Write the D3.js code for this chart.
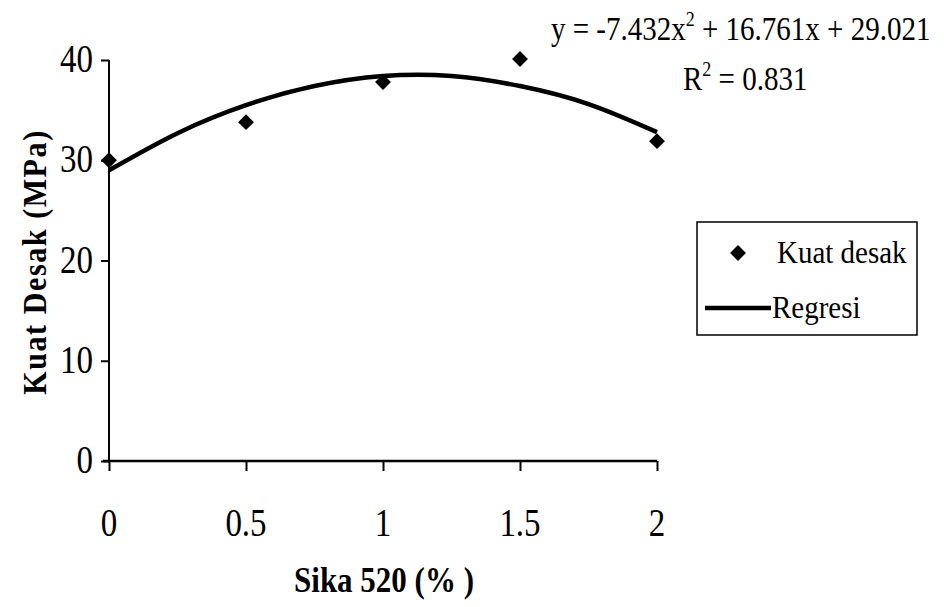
<!DOCTYPE html>
<html>
<head>
<meta charset="utf-8">
<script src="https://cdn.jsdelivr.net/npm/d3@7"></script>
<style>
  body { margin: 0; background: #fff; }
  svg { display: block; font-family: "Liberation Serif", "Times New Roman", serif; }
</style>
</head>
<body>
<div id="chart"></div>
<script>
// measured values (Kuat desak vs Sika 520 %)
const sikaPct = [0, 0.5, 1, 1.5, 2];
const kuatDesak = [30.0, 33.8, 37.8, 40.1, 31.9];

// regression curve
const regX = [0, 0.25, 0.5, 0.75, 1, 1.25, 1.5, 1.75, 2];
const regY = [29.0, 32.7, 35.5, 37.4, 38.4, 38.4, 37.4, 35.6, 32.8];

const xTicks = [0, 0.5, 1, 1.5, 2];
const yTicks = [0, 10, 20, 30, 40];

const W = 944, H = 607;
const svg = d3.select('#chart').append('svg')
    .attr('width', W).attr('height', H);

const x = d3.scaleLinear().domain([0, 2]).range([109, 657]);
const y = d3.scaleLinear().domain([0, 40]).range([461, 60]);

// stretched serif text, like the scanned figure
function label(px, py, str, o) {
    o = o || {};
    const t = svg.append('text')
        .attr('transform', `translate(${px},${py}) scale(1,${o.sy || 1})`)
        .attr('text-anchor', o.anchor || 'start')
        .style('font-size', (o.size || 30) + 'px')
        .style('font-weight', o.weight || 'normal')
        .attr('fill', '#000');
    if (str !== null) t.text(str);
    return t;
}

// axes
svg.append('g')
    .attr('transform', `translate(${x(0)},0)`)
    .call(d3.axisLeft(y).tickValues(yTicks).tickSize(8).tickFormat(''));
svg.append('g')
    .attr('transform', `translate(0,${y(0)})`)
    .call(d3.axisBottom(x).tickValues(xTicks).tickSize(10).tickFormat(''));
svg.selectAll('.domain').remove();
svg.selectAll('.tick line').attr('stroke', '#000').attr('stroke-width', 2);

svg.append('line')
    .attr('x1', x(0)).attr('x2', x(0))
    .attr('y1', y(40)).attr('y2', y(0))
    .attr('stroke', '#000').attr('stroke-width', 2);
svg.append('line')
    .attr('x1', x(0) - 6).attr('x2', x(2))
    .attr('y1', y(0)).attr('y2', y(0))
    .attr('stroke', '#000').attr('stroke-width', 2.5);

// tick labels
yTicks.forEach(v => label(x(0) - 16, y(v) + 12, String(v), { size: 33, sy: 1.22, anchor: 'end' }));
xTicks.forEach(v => label(x(v), 536, String(v), { size: 33, sy: 1.22, anchor: 'middle' }));

// axis titles
label(384, 592, 'Sika 520 (% )', { size: 31, sy: 1.15, anchor: 'middle', weight: 'bold' });
svg.append('text')
    .attr('transform', 'translate(46,262) rotate(-90) scale(1,1.1)')
    .attr('text-anchor', 'middle')
    .style('font-size', '30px')
    .style('font-weight', 'bold')
    .style('letter-spacing', '1.6px')
    .text('Kuat Desak (MPa)');

// regression curve
const line = d3.line()
    .x((d, i) => x(regX[i]))
    .y(d => y(d))
    .curve(d3.curveNatural);
svg.append('path')
    .datum(regY)
    .attr('d', line)
    .attr('fill', 'none')
    .attr('stroke', '#000')
    .attr('stroke-width', 4.5)
    .attr('stroke-linejoin', 'round');

// data points
const diamond = d3.symbol().type(d3.symbolDiamond2).size(160);
svg.selectAll('.pt')
    .data(sikaPct)
    .enter()
    .append('path')
    .attr('class', 'pt')
    .attr('transform', (d, i) => `translate(${x(d)},${y(kuatDesak[i])})`)
    .attr('d', diamond)
    .attr('fill', '#000');

// equation
const eq = label(551, 40, null, { size: 29, sy: 1.13 });
eq.append('tspan').text('y = -7.432x');
eq.append('tspan').attr('dy', -12).style('font-size', '18px').text('2');
eq.append('tspan').attr('dy', 12).text(' + 16.761x + 29.021');

const r2 = label(683, 90, null, { size: 29, sy: 1.13 });
r2.append('tspan').text('R');
r2.append('tspan').attr('dy', -12).style('font-size', '18px').text('2');
r2.append('tspan').attr('dy', 12).text(' = 0.831');

// legend
const lg = svg.append('g');
lg.append('rect')
    .attr('x', 697).attr('y', 222)
    .attr('width', 220).attr('height', 113)
    .attr('fill', 'none').attr('stroke', '#000').attr('stroke-width', 1.5);
lg.append('path')
    .attr('transform', 'translate(738,253)')
    .attr('d', diamond)
    .attr('fill', '#000');
label(777, 263, 'Kuat desak', { size: 29, sy: 1.08 });
lg.append('line')
    .attr('x1', 705).attr('x2', 771)
    .attr('y1', 308).attr('y2', 308)
    .attr('stroke', '#000').attr('stroke-width', 4.5);
label(772, 318, 'Regresi', { size: 29, sy: 1.08 });
</script>
</body>
</html>
